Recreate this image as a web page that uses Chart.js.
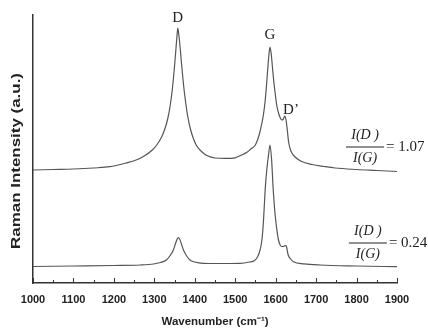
<!DOCTYPE html>
<html>
<head>
<meta charset="utf-8">
<script src="https://cdn.jsdelivr.net/npm/chart.js@4.4.0/dist/chart.umd.min.js"></script>
<style>
  body { margin: 0; background: #fff; }
  canvas { display: block; }
</style>
</head>
<body>
<canvas id="raman" width="428" height="329"></canvas>
<script>
// upper spectrum, I(D)/I(G) = 1.07
var upperWave = [1000, 1050, 1100, 1150, 1190, 1230, 1255, 1275, 1295, 1306, 1318, 1326, 1333, 1339, 1344, 1348, 1351, 1354, 1356, 1358, 1360, 1362, 1365, 1368, 1372, 1376, 1382, 1388, 1396, 1405, 1418, 1430, 1450, 1475, 1500, 1516, 1530, 1540, 1549, 1556, 1561, 1566, 1570, 1574, 1577, 1580, 1583, 1586, 1589, 1592, 1595, 1599, 1603, 1607, 1611, 1615, 1618, 1621, 1623, 1626, 1629, 1632, 1636, 1640, 1648, 1664, 1690, 1720, 1747, 1800, 1850, 1900];
var upperInt = [113, 113.5, 114, 115, 116.3, 120, 123, 127, 133, 138, 146, 154, 164, 177, 192, 208, 222, 237, 247, 255, 250, 243, 230, 216, 199, 185, 168, 156, 145, 137, 131, 127.5, 125, 124.6, 125.2, 128, 131, 134.5, 137.5, 144, 151, 160, 169, 182, 196, 212, 227, 236, 229, 216, 203, 189, 177, 170, 165.5, 163, 163.5, 166, 167, 162, 152, 141, 134, 130, 126, 121.5, 118.5, 116.5, 115, 113.5, 112.5, 111.5];

// lower spectrum, I(D)/I(G) = 0.24
var lowerWave = [1000, 1100, 1200, 1265, 1298, 1315, 1330, 1340, 1347, 1352, 1356, 1359, 1363, 1367, 1372, 1380, 1388, 1400, 1421, 1460, 1512, 1535, 1548, 1555, 1560, 1566, 1570, 1574, 1578, 1582, 1586, 1590, 1594, 1598, 1603, 1607, 1611, 1615, 1619, 1623, 1626, 1631, 1637, 1644, 1670, 1710, 1800, 1900];
var lowerInt = [16.5, 17, 17.5, 18, 19, 20.5, 23, 28, 33, 39, 43.5, 45.5, 43.5, 39, 33, 27, 23, 21, 19.7, 19.5, 19.7, 21, 22.5, 26, 31, 43, 63, 93, 113, 127, 138, 123, 93, 71, 53, 43, 38, 36.5, 36.5, 37.5, 37, 28, 24, 21.3, 19.2, 18, 17, 16.3];

var xTicks = [1000, 1100, 1200, 1300, 1400, 1500, 1600, 1700, 1800, 1900];
var xMinorTicks = [1050, 1150, 1250, 1350, 1450, 1550, 1650, 1750, 1850];

// peak names and where they sit (wavenumber, intensity)
var peakNames = ['D', 'G', 'D\u2019'];
var peakWave = [1358, 1586, 1638];
var peakInt = [265, 248, 173];

// intensity ratios, anchored by the fraction bar
var ratioText = ['1.07', '0.24'];
var ratioWave = [1821, 1828];
var ratioInt = [136, 40];

function toPoints(xs, ys) {
  var pts = [];
  for (var i = 0; i < xs.length; i++) pts.push({x: xs[i], y: ys[i]});
  return pts;
}

var serif = '"Liberation Serif", "Times New Roman", serif';
var sans = '"Liberation Sans", Arial, sans-serif';

var decor = {
  id: 'decor',
  afterDraw: function(chart) {
    var ctx = chart.ctx;
    var xs = chart.scales.x, ys = chart.scales.y;
    var area = chart.chartArea;
    ctx.save();

    // inward ticks on the wavenumber axis
    ctx.strokeStyle = '#333';
    ctx.lineWidth = 1;
    ctx.beginPath();
    xTicks.forEach(function(v) {
      var px = Math.round(xs.getPixelForValue(v)) + 0.5;
      ctx.moveTo(px, area.bottom); ctx.lineTo(px, area.bottom - 5);
    });
    xMinorTicks.forEach(function(v) {
      var px = Math.round(xs.getPixelForValue(v)) + 0.5;
      ctx.moveTo(px, area.bottom); ctx.lineTo(px, area.bottom - 3);
    });
    ctx.stroke();

    // y title, the original is drawn a bit stretched
    ctx.fillStyle = '#222';
    ctx.font = 'bold 12px ' + sans;
    ctx.textAlign = 'center';
    ctx.textBaseline = 'middle';
    var title = 'Raman Intensity (a.u.)';
    var w = ctx.measureText(title).width;
    ctx.save();
    ctx.translate(17, (area.top + area.bottom) / 2 + 12);
    ctx.rotate(-Math.PI / 2);
    ctx.scale(176 / w, 1);
    ctx.fillText(title, 0, 0);
    ctx.restore();

    // peak names
    ctx.font = '15px ' + serif;
    for (var i = 0; i < peakNames.length; i++) {
      ctx.fillText(peakNames[i], xs.getPixelForValue(peakWave[i]), ys.getPixelForValue(peakInt[i]));
    }

    // I(D)/I(G) fractions
    for (var j = 0; j < ratioText.length; j++) {
      var cx = xs.getPixelForValue(ratioWave[j]);
      var cy = ys.getPixelForValue(ratioInt[j]);
      ctx.font = 'italic 14px ' + serif;
      ctx.textAlign = 'center';
      ctx.fillText('I(D )', cx, cy - 12);
      ctx.fillText('I(G)', cx, cy + 11);
      ctx.fillRect(cx - 19, cy - 0.5, 38, 1);
      ctx.font = '15px ' + serif;
      ctx.textAlign = 'left';
      ctx.fillText('= ' + ratioText[j], cx + 21, cy);
    }
    ctx.restore();
  }
};

new Chart(document.getElementById('raman'), {
  type: 'line',
  data: {
    datasets: [
      {data: toPoints(upperWave, upperInt), borderColor: '#555', borderWidth: 1.2, pointRadius: 0, cubicInterpolationMode: 'monotone'},
      {data: toPoints(lowerWave, lowerInt), borderColor: '#555', borderWidth: 1.2, pointRadius: 0, cubicInterpolationMode: 'monotone'}
    ]
  },
  options: {
    responsive: false,
    animation: false,
    layout: {padding: {top: 15, right: 31, bottom: 0, left: 0}},
    plugins: {legend: {display: false}, tooltip: {enabled: false}},
    scales: {
      x: {
        type: 'linear',
        min: 1000,
        max: 1900,
        afterBuildTicks: function(scale) {
          scale.ticks = xTicks.map(function(v) { return {value: v}; });
        },
        afterFit: function(scale) { scale.height = 46; },
        grid: {display: false},
        border: {display: true, color: '#333', width: 1.5},
        ticks: {
          padding: 2,
          maxRotation: 0,
          color: '#222',
          callback: function(v) { return String(v); },
          font: {family: sans, size: 11, weight: 'bold'}
        },
        title: {
          display: true,
          text: 'Wavenumber (cm\u207B\u00B9)',
          color: '#222',
          padding: {top: 0, bottom: 0},
          font: {family: sans, size: 11.5, weight: 'bold'}
        }
      },
      y: {
        min: 0,
        max: 268,
        afterFit: function(scale) { scale.width = 33; },
        grid: {display: false},
        border: {display: true, color: '#333', width: 1.5},
        ticks: {display: false}
      }
    }
  },
  plugins: [decor]
});
</script>
</body>
</html>
